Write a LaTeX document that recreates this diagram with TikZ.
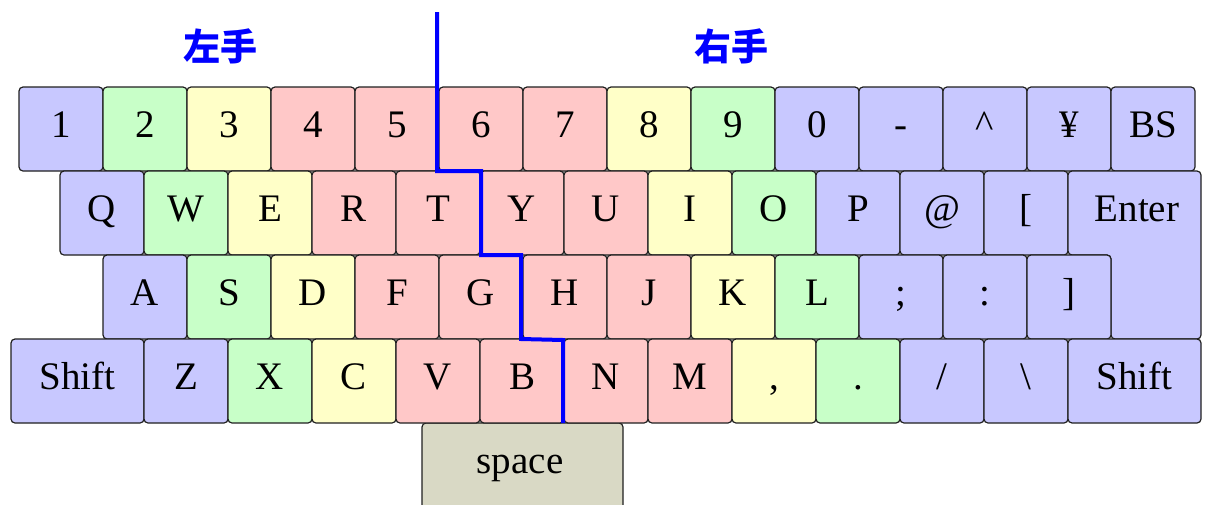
\documentclass[tikz,border=0pt]{standalone}
\usepackage{fontspec}
\setmainfont{Liberation Serif}
\newfontfamily\jpfont{Noto Sans CJK JP}
\definecolor{kb}{HTML}{C8C8FF}
\definecolor{kg}{HTML}{C8FFC8}
\definecolor{ky}{HTML}{FFFFC8}
\definecolor{kp}{HTML}{FFC8C8}
\definecolor{ksp}{HTML}{D9D9C5}
\definecolor{keyline}{HTML}{202020}
\newcommand\kbfont{\fontsize{39}{40}\selectfont}
\begin{document}
\begin{tikzpicture}[x=1pt,y=-1pt,
  key/.style={draw=keyline, line width=1.2pt, rounded corners=4pt, minimum width=84pt, minimum height=84pt, inner sep=0pt, text height=16pt, text depth=0pt, font=\kbfont},
  keyshape/.style={draw=keyline, line width=1.2pt, rounded corners=4pt},
  hand/.style={text=blue, font=\jpfont\bfseries\fontsize{37}{40}\selectfont},
  divider/.style={draw=blue, line width=4pt}]
\path[use as bounding box] (0,0) rectangle (1209,504);
\clip (0,0) rectangle (1209,504);
% hand labels
\node[hand] (left) at (220,46) {左手};
\node[hand] (right) at (731,46) {右手};
% space key
\draw[keyshape, fill=ksp] (422,423) rectangle (623,530);
\node[font=\kbfont, anchor=base, inner sep=0pt] (space) at (520,473) {space};
% row 1
\node[key, fill=kb] (k1) at (61,129) {1};
\node[key, fill=kg] (k2) at (145,129) {2};
\node[key, fill=ky] (k3) at (229,129) {3};
\node[key, fill=kp] (k4) at (313,129) {4};
\node[key, fill=kp] (k5) at (397,129) {5};
\node[key, fill=kp] (k6) at (481,129) {6};
\node[key, fill=kp] (k7) at (565,129) {7};
\node[key, fill=ky] (k8) at (649,129) {8};
\node[key, fill=kg] (k9) at (733,129) {9};
\node[key, fill=kb] (k0) at (817,129) {0};
\node[key, fill=kb] (kminus) at (901,129) {-};
\node[key, fill=kb] (kcaret) at (985,129) {\textasciicircum};
\node[key, fill=kb] (kyen) at (1069,129) {¥};
\node[key, fill=kb] (kbs) at (1153,129) {BS};
% row 2
\node[key, fill=kb] (kQ) at (102,213) {Q};
\node[key, fill=kg] (kW) at (186,213) {W};
\node[key, fill=ky] (kE) at (270,213) {E};
\node[key, fill=kp] (kR) at (354,213) {R};
\node[key, fill=kp] (kT) at (438,213) {T};
\node[key, fill=kp] (kY) at (522,213) {Y};
\node[key, fill=kp] (kU) at (606,213) {U};
\node[key, fill=ky] (kI) at (690,213) {I};
\node[key, fill=kg] (kO) at (774,213) {O};
\node[key, fill=kb] (kP) at (858,213) {P};
\node[key, fill=kb] (kat) at (942,213) {@};
\node[key, fill=kb] (klb) at (1026,213) {[};
% enter key
\draw[keyshape, fill=kb] (1068,171) -- (1201,171) -- (1201,339) -- (1111,339) -- (1111,255) -- (1068,255) -- cycle;
\node[font=\kbfont, anchor=base, inner sep=0pt] (enter) at (1137,221) {Enter};
% row 3
\node[key, fill=kb] (kA) at (145,297) {A};
\node[key, fill=kg] (kS) at (229,297) {S};
\node[key, fill=ky] (kD) at (313,297) {D};
\node[key, fill=kp] (kF) at (397,297) {F};
\node[key, fill=kp] (kG) at (481,297) {G};
\node[key, fill=kp] (kH) at (565,297) {H};
\node[key, fill=kp] (kJ) at (649,297) {J};
\node[key, fill=ky] (kK) at (733,297) {K};
\node[key, fill=kg] (kL) at (817,297) {L};
\node[key, fill=kb] (ksemi) at (901,297) {;};
\node[key, fill=kb] (kcolon) at (985,297) {:};
\node[key, fill=kb] (krb) at (1069,297) {]};
% row 4
\node[key, fill=kb, minimum width=133pt] (kshiftl) at (77.5,381) {Shift};
\node[key, fill=kb] (kZ) at (186,381) {Z};
\node[key, fill=kg] (kX) at (270,381) {X};
\node[key, fill=ky] (kC) at (354,381) {C};
\node[key, fill=kp] (kV) at (438,381) {V};
\node[key, fill=kp] (kB) at (522,381) {B};
\node[key, fill=kp] (kN) at (606,381) {N};
\node[key, fill=kp] (kM) at (690,381) {M};
\node[key, fill=ky] (kcomma) at (774,381) {,};
\node[key, fill=kg] (kdot) at (858,381) {.};
\node[key, fill=kb] (kslash) at (942,381) {/};
\node[key, fill=kb] (kbslash) at (1026,381) {\textbackslash};
\node[key, fill=kb, minimum width=133pt] (kshiftr) at (1134.5,381) {Shift};
% dividing line
\coordinate (top) at (437,12);
\draw[divider] (top) -- (437,171) -- (481,171) -- (481,255) -- (521,255) -- (521,339) -- (563,340) -- (563,423);
\end{tikzpicture}
\end{document}
